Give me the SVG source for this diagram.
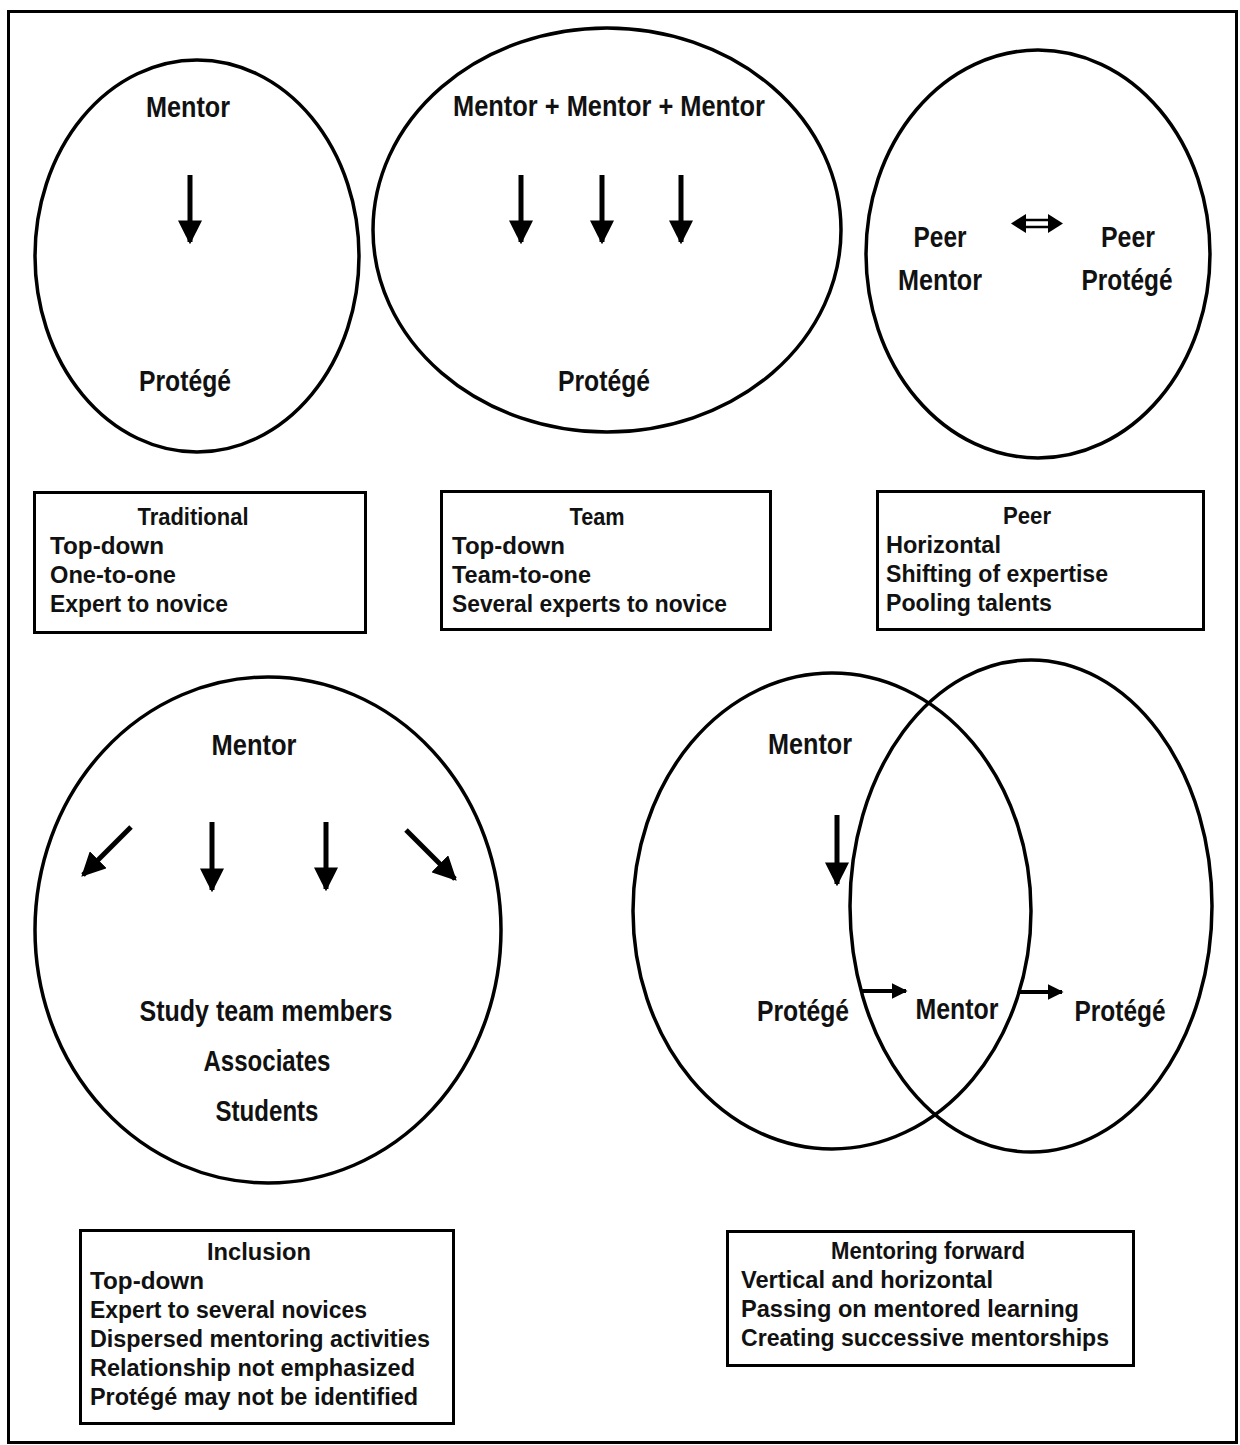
<svg xmlns="http://www.w3.org/2000/svg" width="1240" height="1445" viewBox="0 0 1240 1445">
<defs>
<style>
.e{fill:none;stroke:#000;stroke-width:3.5}
.b{fill:#fff;stroke:#000;stroke-width:3}
.t{font-family:"Liberation Sans",Arial,sans-serif;font-weight:bold;font-size:29px;fill:#111}
.c{text-anchor:middle}
.s{font-family:"Liberation Sans",Arial,sans-serif;font-weight:bold;font-size:23px;fill:#111}
.sh{stroke:#000;stroke-width:5;fill:none}
.sh2{stroke:#000;stroke-width:4;fill:none}
</style>
<marker id="ah" viewBox="0 0 10 10" refX="9" refY="5" markerWidth="4.8" markerHeight="4.8" orient="auto" markerUnits="strokeWidth">
<path d="M0,0 L10,5 L0,10 z" fill="#000"/>
</marker>
<marker id="ah2" viewBox="0 0 10 10" refX="9" refY="5" markerWidth="4" markerHeight="4" orient="auto" markerUnits="strokeWidth">
<path d="M0,0 L10,5 L0,10 z" fill="#000"/>
</marker>
</defs>
<rect x="0" y="0" width="1240" height="1445" fill="#fff"/>
<rect x="8.5" y="11.5" width="1228" height="1431" fill="none" stroke="#000" stroke-width="3"/>

<g id="traditional">
<ellipse class="e" cx="197" cy="256" rx="162" ry="196"/>
<text class="t c" x="188" y="117" textLength="84" lengthAdjust="spacingAndGlyphs">Mentor</text>
<text class="t c" x="185" y="391" textLength="92" lengthAdjust="spacingAndGlyphs">Protégé</text>
</g>
<g id="team">
<ellipse class="e" cx="607" cy="230" rx="234" ry="202"/>
<text class="t c" x="609" y="116" textLength="312" lengthAdjust="spacingAndGlyphs">Mentor + Mentor + Mentor</text>
<text class="t c" x="604" y="391" textLength="92" lengthAdjust="spacingAndGlyphs">Protégé</text>
</g>
<g id="peer">
<ellipse class="e" cx="1038" cy="254" rx="172" ry="204"/>
<text class="t c" x="940" y="247" textLength="53" lengthAdjust="spacingAndGlyphs">Peer</text>
<text class="t c" x="940" y="290" textLength="84" lengthAdjust="spacingAndGlyphs">Mentor</text>
<text class="t c" x="1128" y="247" textLength="54" lengthAdjust="spacingAndGlyphs">Peer</text>
<text class="t c" x="1127" y="290" textLength="91" lengthAdjust="spacingAndGlyphs">Protégé</text>
</g>
<g id="inclusion">
<ellipse class="e" cx="268" cy="930" rx="233" ry="253"/>
<text class="t c" x="254" y="755" textLength="85" lengthAdjust="spacingAndGlyphs">Mentor</text>
<text class="t c" x="266" y="1021" textLength="253" lengthAdjust="spacingAndGlyphs">Study team members</text>
<text class="t c" x="267" y="1071" textLength="127" lengthAdjust="spacingAndGlyphs">Associates</text>
<text class="t c" x="267" y="1121" textLength="103" lengthAdjust="spacingAndGlyphs">Students</text>
</g>
<g id="mentoring-forward">
<ellipse class="e" cx="832" cy="911" rx="199" ry="238"/>
<ellipse class="e" cx="1031" cy="906" rx="181" ry="246"/>
<text class="t c" x="810" y="754" textLength="84" lengthAdjust="spacingAndGlyphs">Mentor</text>
<text class="t c" x="803" y="1021" textLength="92" lengthAdjust="spacingAndGlyphs">Protégé</text>
<text class="t c" x="957" y="1019" textLength="83" lengthAdjust="spacingAndGlyphs">Mentor</text>
<text class="t c" x="1120" y="1021" textLength="91" lengthAdjust="spacingAndGlyphs">Protégé</text>
</g>

<g id="box-traditional">
<rect class="b" x="34.5" y="492.5" width="331" height="140"/>
<text class="s c" x="193" y="525" textLength="111" lengthAdjust="spacingAndGlyphs">Traditional</text>
<text class="s" x="50" y="554" textLength="114" lengthAdjust="spacingAndGlyphs">Top-down</text>
<text class="s" x="50" y="583" textLength="126" lengthAdjust="spacingAndGlyphs">One-to-one</text>
<text class="s" x="50" y="612" textLength="178" lengthAdjust="spacingAndGlyphs">Expert to novice</text>
</g>
<g id="box-team">
<rect class="b" x="441.5" y="491.5" width="329" height="138"/>
<text class="s c" x="597" y="525" textLength="55" lengthAdjust="spacingAndGlyphs">Team</text>
<text class="s" x="452" y="554" textLength="113" lengthAdjust="spacingAndGlyphs">Top-down</text>
<text class="s" x="452" y="583" textLength="139" lengthAdjust="spacingAndGlyphs">Team-to-one</text>
<text class="s" x="452" y="612" textLength="275" lengthAdjust="spacingAndGlyphs">Several experts to novice</text>
</g>
<g id="box-peer">
<rect class="b" x="877.5" y="491.5" width="326" height="138"/>
<text class="s c" x="1027" y="524" textLength="48" lengthAdjust="spacingAndGlyphs">Peer</text>
<text class="s" x="886" y="553" textLength="115" lengthAdjust="spacingAndGlyphs">Horizontal</text>
<text class="s" x="886" y="582" textLength="222" lengthAdjust="spacingAndGlyphs">Shifting of expertise</text>
<text class="s" x="886" y="611" textLength="166" lengthAdjust="spacingAndGlyphs">Pooling talents</text>
</g>
<g id="box-inclusion">
<rect class="b" x="80.5" y="1230.5" width="373" height="193"/>
<text class="s c" x="259" y="1260" textLength="104" lengthAdjust="spacingAndGlyphs">Inclusion</text>
<text class="s" x="90" y="1289" textLength="114" lengthAdjust="spacingAndGlyphs">Top-down</text>
<text class="s" x="90" y="1318" textLength="277" lengthAdjust="spacingAndGlyphs">Expert to several novices</text>
<text class="s" x="90" y="1347" textLength="340" lengthAdjust="spacingAndGlyphs">Dispersed mentoring activities</text>
<text class="s" x="90" y="1376" textLength="325" lengthAdjust="spacingAndGlyphs">Relationship not emphasized</text>
<text class="s" x="90" y="1405" textLength="328" lengthAdjust="spacingAndGlyphs">Protégé may not be identified</text>
</g>
<g id="box-mentoring-forward">
<rect class="b" x="727.5" y="1231.5" width="406" height="134"/>
<text class="s c" x="928" y="1259" textLength="194" lengthAdjust="spacingAndGlyphs">Mentoring forward</text>
<text class="s" x="741" y="1288" textLength="252" lengthAdjust="spacingAndGlyphs">Vertical and horizontal</text>
<text class="s" x="741" y="1317" textLength="338" lengthAdjust="spacingAndGlyphs">Passing on mentored learning</text>
<text class="s" x="741" y="1346" textLength="368" lengthAdjust="spacingAndGlyphs">Creating successive mentorships</text>
</g>

<g id="connectors">
<line class="sh" x1="190" y1="175" x2="190" y2="242" marker-end="url(#ah)"/>
<line class="sh" x1="521" y1="175" x2="521" y2="242" marker-end="url(#ah)"/>
<line class="sh" x1="602" y1="175" x2="602" y2="242" marker-end="url(#ah)"/>
<line class="sh" x1="681" y1="175" x2="681" y2="242" marker-end="url(#ah)"/>
<g id="double-arrow">
<line x1="1022" y1="220" x2="1052" y2="220" stroke="#000" stroke-width="2.5"/>
<line x1="1022" y1="227" x2="1052" y2="227" stroke="#000" stroke-width="2.5"/>
<path d="M1011,223.5 L1026,214 L1026,233 z" fill="#000"/>
<path d="M1063,223.5 L1048,214 L1048,233 z" fill="#000"/>
</g>
<line class="sh" x1="131" y1="827" x2="83" y2="875" marker-end="url(#ah)"/>
<line class="sh" x1="212" y1="822" x2="212" y2="890" marker-end="url(#ah)"/>
<line class="sh" x1="326" y1="822" x2="326" y2="889" marker-end="url(#ah)"/>
<line class="sh" x1="406" y1="830" x2="455" y2="879" marker-end="url(#ah)"/>
<line class="sh" x1="837" y1="815" x2="837" y2="884" marker-end="url(#ah)"/>
<line class="sh2" x1="862" y1="991" x2="906" y2="991" marker-end="url(#ah2)"/>
<line class="sh2" x1="1020" y1="992" x2="1062" y2="992" marker-end="url(#ah2)"/>
</g>
</svg>
